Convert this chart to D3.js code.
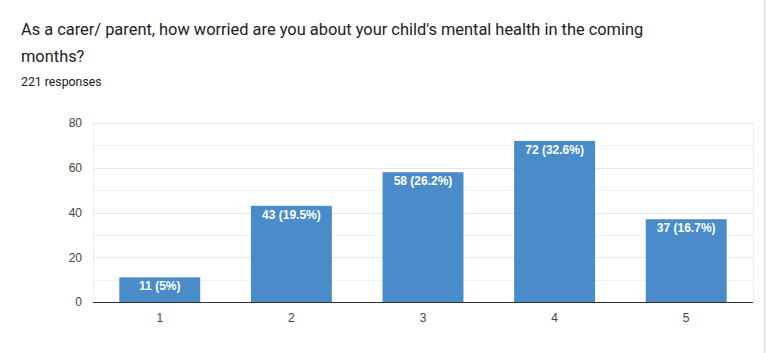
<!DOCTYPE html>
<html>
<head>
<meta charset="utf-8">
<script src="https://cdn.jsdelivr.net/npm/d3@7"></script>
<style>
  body { margin: 0; background: #fff; }
  svg { display: block; }
  .title { font-family: Roboto, Arial, sans-serif; font-size: 16.4px; fill: #202124; }
  .sub { font-family: Roboto, Arial, sans-serif; font-size: 12.3px; fill: #202124; }
  .tick text { font-family: Arial, "Liberation Sans", sans-serif; font-size: 12px; fill: #444; }
  .bar-label { font-family: Arial, "Liberation Sans", sans-serif; font-size: 12px; font-weight: bold; fill: #fff; }
</style>
</head>
<body>
<div id="chart"></div>
<script>
const categories = ['1', '2', '3', '4', '5'];
const counts = [11, 43, 58, 72, 37];
const percents = ['5%', '19.5%', '26.2%', '32.6%', '16.7%'];
const yTicks = [0, 20, 40, 60, 80];
const gridValues = [10, 20, 30, 40, 50, 60, 70, 80];

const width = 767, height = 353;
const margin = { top: 123, right: 14, bottom: 51, left: 93 };

const svg = d3.select('#chart').append('svg').attr('width', width).attr('height', height);

svg.append('text').attr('class', 'title').attr('x', 21).attr('y', 35)
  .text("As a carer/ parent, how worried are you about your child's mental health in the coming");
svg.append('text').attr('class', 'title').attr('x', 21).attr('y', 62).text('months?');
svg.append('text').attr('class', 'sub').attr('x', 21).attr('y', 86).text('221 responses');

// bord de la carte
svg.append('line').attr('x1', 764.5).attr('x2', 764.5).attr('y1', 0).attr('y2', height)
  .attr('stroke', '#dde3ea').attr('stroke-width', 1.5);

const x = d3.scaleBand().domain(categories).range([margin.left, width - margin.right]).paddingInner(0.385).paddingOuter(0.2);
const y = d3.scaleLinear().domain([0, 80]).range([height - margin.bottom, margin.top]);

svg.append('g').selectAll('line').data(gridValues).join('line')
  .attr('x1', margin.left).attr('x2', width - margin.right)
  .attr('y1', (d) => Math.round(y(d)) + 0.5).attr('y2', (d) => Math.round(y(d)) + 0.5)
  .attr('stroke', (d) => (d % 20 === 0 ? '#e6e6e6' : '#f2f2f2'));

svg.append('line').attr('x1', margin.left + 0.5).attr('x2', margin.left + 0.5)
  .attr('y1', margin.top).attr('y2', y(0)).attr('stroke', '#eeeeee');
svg.append('line').attr('x1', width - margin.right + 0.5).attr('x2', width - margin.right + 0.5)
  .attr('y1', margin.top).attr('y2', y(0)).attr('stroke', '#eeeeee');

svg.selectAll('rect.bar').data(counts).join('rect')
  .attr('class', 'bar')
  .attr('x', (d, i) => x(categories[i]))
  .attr('width', x.bandwidth())
  .attr('y', (d) => y(d))
  .attr('height', (d) => y(0) - y(d))
  .attr('fill', '#498cc9');

svg.selectAll('text.bar-label').data(counts).join('text')
  .attr('class', 'bar-label')
  .attr('x', (d, i) => x(categories[i]) + x.bandwidth() / 2)
  .attr('y', (d) => y(d) + 13)
  .attr('text-anchor', 'middle')
  .text((d, i) => `${d} (${percents[i]})`);

svg.append('line').attr('x1', margin.left).attr('x2', width - margin.right)
  .attr('y1', y(0) + 0.5).attr('y2', y(0) + 0.5).attr('stroke', '#333');

const yAxis = svg.append('g').attr('transform', `translate(${margin.left},0)`)
  .call(d3.axisLeft(y).tickValues(yTicks).tickSize(0).tickPadding(11));
yAxis.select('.domain').remove();

const xAxis = svg.append('g').attr('transform', `translate(0,${y(0)})`)
  .call(d3.axisBottom(x).tickSize(0).tickPadding(11));
xAxis.select('.domain').remove();
</script>
</body>
</html>
